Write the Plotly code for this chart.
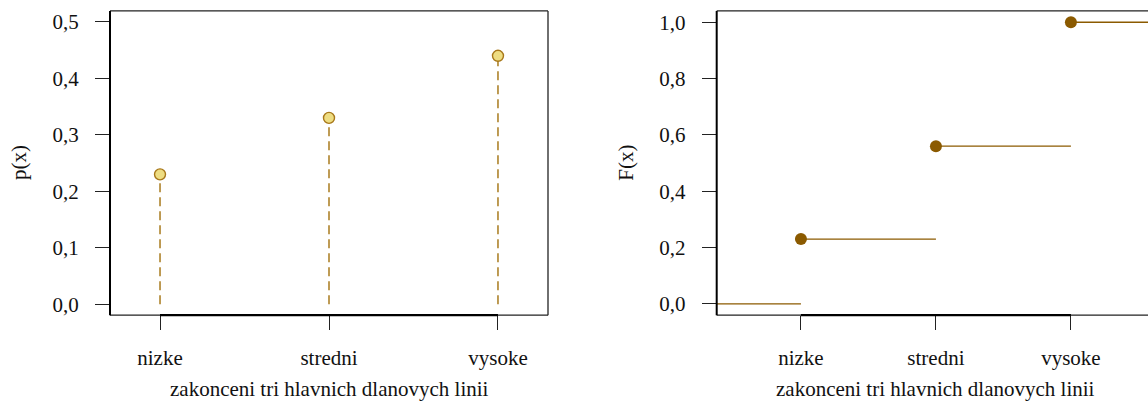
import plotly.graph_objects as go

# ---- data ----
categories = ["nizke", "stredni", "vysoke"]
p_values = [0.23, 0.33, 0.44]
F_values = [0.23, 0.56, 1.00]
x_pos = [1, 2, 3]

p_ticks = [0.0, 0.1, 0.2, 0.3, 0.4, 0.5]
p_ticklabels = ["0,0", "0,1", "0,2", "0,3", "0,4", "0,5"]
F_ticks = [0.0, 0.2, 0.4, 0.6, 0.8, 1.0]
F_ticklabels = ["0,0", "0,2", "0,4", "0,6", "0,8", "1,0"]

x_title = "zakonceni tri hlavnich dlanovych linii"
p_title = "p(x)"
F_title = "F(x)"

# ---- layout constants ----
W, H = 1148, 402
FONT = "'Liberation Serif', 'Times New Roman', Times, 'DejaVu Serif', serif"
FS = 21
TXT = "#111111"
STEM = "#a87a1c"
MOUT = "#a8781a"
FILL = "#eedd82"
DARK = "#8b5a00"
FRAME = "#222222"

x1_range = [0.704, 3.296]
y1_range = [-0.0194, 0.5194]
x2_range = [0.376, 3.571]
y2_range = [-0.04, 1.04]

dom_y = [1 - 315.7 / H, 1 - 10 / H]
dom_x1 = [110 / W, 548 / W]
dom_x2 = [716.7 / W, 1.0]

fig = go.Figure()

# left panel: stems
sx, sy = [], []
for xv, pv in zip(x_pos, p_values):
    sx += [xv, xv, None]
    sy += [0, pv, None]
fig.add_trace(go.Scatter(x=sx, y=sy, mode="lines", xaxis="x", yaxis="y",
                         line=dict(color=STEM, width=1.5, dash="9px,5px"),
                         hoverinfo="skip", showlegend=False))
fig.add_trace(go.Scatter(x=x_pos, y=p_values, mode="markers", xaxis="x", yaxis="y",
                         marker=dict(size=11, color=FILL, line=dict(color=MOUT, width=1.4)),
                         showlegend=False))

# right panel: step function
bounds = [x2_range[0]] + x_pos + [x2_range[1]]
levels = [0.0] + F_values
lx, ly = [], []
for i, lv in enumerate(levels):
    lx += [bounds[i], bounds[i + 1], None]
    ly += [lv, lv, None]
fig.add_trace(go.Scatter(x=lx, y=ly, mode="lines", xaxis="x2", yaxis="y2",
                         line=dict(color=DARK, width=1.4),
                         hoverinfo="skip", showlegend=False))
fig.add_trace(go.Scatter(x=x_pos, y=F_values, mode="markers", xaxis="x2", yaxis="y2",
                         marker=dict(size=12, color=DARK, line=dict(width=0)),
                         showlegend=False, cliponaxis=False))

axis_common = dict(showgrid=False, zeroline=False, ticks="outside", ticklen=14,
                   tickwidth=1.2, tickcolor=FRAME, showline=False,
                   tickfont=dict(family=FONT, size=FS, color=TXT),
                   fixedrange=True)

fig.update_layout(
    width=W, height=H,
    margin=dict(l=0, r=0, t=0, b=0),
    paper_bgcolor="white", plot_bgcolor="white",
    showlegend=False,
    font=dict(family=FONT, size=FS, color=TXT),
    xaxis=dict(**axis_common, domain=dom_x1, range=x1_range, anchor="y",
               tickvals=x_pos, ticktext=categories, ticklabelstandoff=10),
    yaxis=dict(**axis_common, domain=dom_y, range=y1_range, anchor="x",
               tickvals=p_ticks, ticktext=p_ticklabels, ticklabelstandoff=12),
    xaxis2=dict(**axis_common, domain=dom_x2, range=x2_range, anchor="y2",
                tickvals=x_pos, ticktext=categories, ticklabelstandoff=10),
    yaxis2=dict(**axis_common, domain=dom_y, range=y2_range, anchor="x2",
                tickvals=F_ticks, ticktext=F_ticklabels, ticklabelstandoff=12),
)

def pline(x0, y0, x1, y1, w, c=FRAME):
    fig.add_shape(type="line", xref="paper", yref="paper", x0=x0, y0=y0, x1=x1, y1=y1,
                  line=dict(color=c, width=w), layer="above")

# left panel frame
pline(dom_x1[0], dom_y[1], dom_x1[1], dom_y[1], 1.3)
pline(dom_x1[1], dom_y[0], dom_x1[1], dom_y[1], 1.3)
pline(dom_x1[0], dom_y[0], dom_x1[1], dom_y[0], 1.3)
pline(dom_x1[0], dom_y[0], dom_x1[0], dom_y[1], 2.0, "black")
# right panel frame (right edge outside the picture)
pline(dom_x2[0], dom_y[1], dom_x2[1], dom_y[1], 1.3)
pline(dom_x2[0], dom_y[0], dom_x2[1], dom_y[0], 1.3)
pline(dom_x2[0], dom_y[0], dom_x2[0], dom_y[1], 2.0, "black")

# thicker axis segments between first and last tick
for xr in ("x", "x2"):
    fig.add_shape(type="line", xref=xr, yref="paper", x0=x_pos[0], x1=x_pos[-1],
                  y0=dom_y[0], y1=dom_y[0], line=dict(color="black", width=2.2), layer="above")

# axis titles (centred on the middle category)
title_font = dict(family=FONT, size=FS, color=TXT)
for xr in ("x", "x2"):
    fig.add_annotation(text=x_title, xref=xr, yref="paper",
                       x=x_pos[1], y=1 - 390 / H,
                       xanchor="center", yanchor="middle", showarrow=False, font=title_font)
fig.add_annotation(text=p_title, xref="paper", yref="paper",
                   x=19 / W, y=(dom_y[0] + dom_y[1]) / 2, textangle=-90,
                   xanchor="center", yanchor="middle", showarrow=False, font=title_font)
fig.add_annotation(text=F_title, xref="paper", yref="paper",
                   x=625.7 / W, y=(dom_y[0] + dom_y[1]) / 2, textangle=-90,
                   xanchor="center", yanchor="middle", showarrow=False, font=title_font)

fig.write_html("out.html", config={"displayModeBar": False})
